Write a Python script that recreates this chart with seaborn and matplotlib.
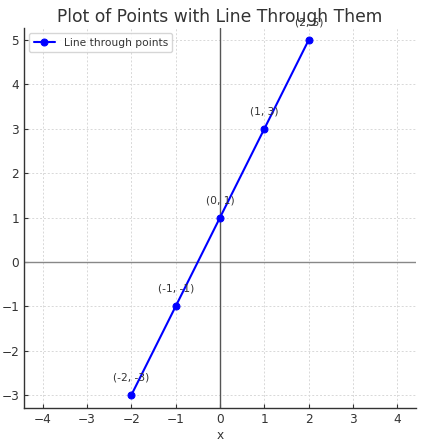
import matplotlib
matplotlib.use("Agg")
import matplotlib.pyplot as plt
import seaborn as sns
import pandas as pd

x_vals = [-2, -1, 0, 1, 2]
y_vals = [-3, -1, 1, 3, 5]
labels = ["(-2, -3)", "(-1, -1)", "(0, 1)", "(1, 3)", "(2, 5)"]
x_ticks = [-4, -3, -2, -1, 0, 1, 2, 3, 4]
y_ticks = [-3, -2, -1, 0, 1, 2, 3, 4, 5]

sns.set_style("ticks")
plt.rcParams['font.family'] = ['DejaVu Sans']
text_color = "#333333"

df = pd.DataFrame({"x": x_vals, "y": y_vals})

fig = plt.figure(figsize=(4.25, 4.43), dpi=100)
ax = fig.add_axes([24/425, 35/443, 392/425, 380/443])

ax.axhline(0, color="#888888", linewidth=1, zorder=1)
ax.axvline(0, color="#555555", linewidth=1, zorder=1)

sns.lineplot(data=df, x="x", y="y", marker="o", color="blue", markersize=5,
             markeredgecolor="blue", linewidth=1.5, label="Line through points", ax=ax, zorder=3)

for xv, yv, lab in zip(x_vals, y_vals, labels):
    ax.annotate(lab, (xv, yv), textcoords="offset points", xytext=(0, 9),
                ha="center", va="bottom", fontsize=7.7, color=text_color)

ax.set_xlim(-4.42, 4.42)
ax.set_ylim(-3.29, 5.27)
ax.set_xticks(x_ticks)
ax.set_yticks(y_ticks)
ax.grid(True, linestyle=(0, (2, 2)), color="#d8d8d8", linewidth=0.7)
ax.tick_params(direction="in", labelsize=8.7, colors=text_color, length=3)
for s in ["top", "right"]:
    ax.spines[s].set_visible(False)
for s in ["left", "bottom"]:
    ax.spines[s].set_color("#333333")
    ax.spines[s].set_linewidth(1)

ax.set_xlabel("x", fontsize=8.7, color=text_color, labelpad=2)
ax.set_ylabel("")
ax.set_title("Plot of Points with Line Through Them", fontsize=12.3, color=text_color, pad=4)
leg = ax.legend(loc="upper left", fontsize=7.7, frameon=True, fancybox=True)
for t in leg.get_texts():
    t.set_color(text_color)

fig.savefig("out.png", dpi=100)
